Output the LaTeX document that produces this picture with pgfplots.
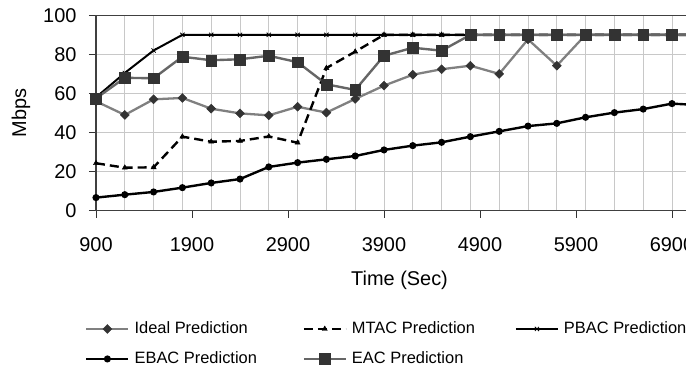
\documentclass[border=0pt]{standalone}
\usepackage{pgfplots}
\pgfplotsset{compat=1.18}
\usepackage{fontspec}
\setmainfont{Liberation Sans}
\definecolor{gridc}{HTML}{C8C8C8}
\definecolor{markc}{HTML}{333333}
\begin{document}
\begin{tikzpicture}
\begin{axis}[
  scale only axis, width=595.2bp, height=195.4bp,
  xmin=900, xmax=7100, ymin=0, ymax=100,
  xtick={900,1900,...,6900}, ytick={0,20,...,100},
  minor xtick={1200,1500,...,7000},
  xminorgrids=true, ymajorgrids=true,
  minor grid style={gridc, line width=0.8pt},
  major grid style={gridc, line width=0.8pt},
  minor tick length=0pt,
  major tick length=7bp,
  tick align=outside,
  xtick pos=bottom, ytick pos=left,
  tick style={black!80, line width=0.8pt},
  axis line style={black!75, line width=1.1pt},
  /pgf/number format/assume math mode=true,
  /pgf/number format/1000 sep={},
  ticklabel style={font=\fontsize{20}{24}\selectfont},
  xticklabel style={anchor=center, yshift=-27bp},
  yticklabel style={anchor=east, xshift=-9bp},
  label style={font=\fontsize{20}{24}\selectfont},
  xlabel={Time (Sec)}, ylabel={Mbps},
  xlabel style={at={(axis description cs:0.51,-0.355)}, anchor=center},
  ylabel style={at={(axis description cs:-0.126,0.5)}, anchor=center},
  legend columns=3,
  legend image code/.code={\draw[mark repeat=2,mark phase=2,#1] plot coordinates {(0bp,0bp) (21bp,0bp) (42bp,0bp)};},
  legend style={draw=none, fill=none, font=\fontsize{16.5}{20}\selectfont,
    at={(axis description cs:-0.0185,-0.5645)}, anchor=north west,
    inner sep=0pt, row sep=14.5bp,
    nodes={inner sep=0pt, text height=12bp, text depth=3.5bp},
    /tikz/every odd column/.append style={column sep=5bp}},
]
\addplot[black!50, line width=2.3pt, mark=square*, mark size=3.2pt,
  mark options={solid, rotate=45, fill=markc, draw=markc, line width=0.4pt}] coordinates {
(900,56) (1200,49) (1500,57) (1800,57.7) (2100,52.2) (2400,49.8) (2700,48.8) (3000,53.2)
(3300,50.2) (3600,57.2) (3900,64) (4200,69.6) (4500,72.4) (4800,74.2) (5100,70) (5400,87.7)
(5700,74.2) (6000,90) (6300,90) (6600,90) (6900,90) (7200,90)};
\addlegendentry{\makebox[168bp][l]{Ideal Prediction}}
\addplot[black, line width=2.4pt, dash pattern=on 9bp off 5bp, mark=triangle*, mark size=3pt,
  mark options={solid, line width=0.4pt}] coordinates {
(900,24.3) (1200,22) (1500,22.2) (1800,37.9) (2100,35.3) (2400,35.7) (2700,38) (3000,34.8)
(3300,73) (3600,81.4) (3900,90) (4200,90) (4500,90) (4800,90) (5100,90) (5400,90)
(5700,90) (6000,90) (6300,90) (6600,90) (6900,90) (7200,90)};
\addlegendentry{\makebox[163bp][l]{MTAC Prediction}}
\addplot[black, line width=2pt, mark=x, mark size=3pt, mark options={solid, line width=0.8pt}] coordinates {
(900,58) (1200,70.5) (1500,82) (1800,90) (2100,90) (2400,90) (2700,90) (3000,90)
(3300,90) (3600,90) (3900,90) (4200,90) (4500,90) (4800,90) (5100,90) (5400,90)
(5700,90) (6000,90) (6300,90) (6600,90) (6900,90) (7200,90)};
\addlegendentry{PBAC Prediction}
\addplot[black, line width=2.4pt, mark=*, mark size=2.3pt, mark options={solid}] coordinates {
(900,6.7) (1200,8.2) (1500,9.6) (1800,11.8) (2100,14.2) (2400,16.2) (2700,22.4) (3000,24.6)
(3300,26.3) (3600,28) (3900,31.1) (4200,33.3) (4500,35) (4800,37.9) (5100,40.6) (5400,43.3)
(5700,44.7) (6000,47.8) (6300,50.2) (6600,52) (6900,54.8) (7200,54)};
\addlegendentry{\makebox[168bp][l]{EBAC Prediction}}
\addplot[black!60, line width=2.4pt, mark=square*, mark size=5.5pt,
  mark options={solid, fill=markc, draw=markc, line width=0.4pt}] coordinates {
(900,57.5) (1200,68) (1500,67.8) (1800,78.8) (2100,77) (2400,77.5) (2700,79.3) (3000,76)
(3300,64.7) (3600,61.8) (3900,79.3) (4200,83.4) (4500,81.9) (4800,90) (5100,90) (5400,90)
(5700,90) (6000,90) (6300,90) (6600,90) (6900,90) (7200,90)};
\addlegendentry{\makebox[163bp][l]{EAC Prediction}}
\end{axis}
\pgfresetboundingbox
\useasboundingbox (-96bp,-157.3bp) rectangle (590bp,210.7bp);
\end{tikzpicture}
\end{document}
